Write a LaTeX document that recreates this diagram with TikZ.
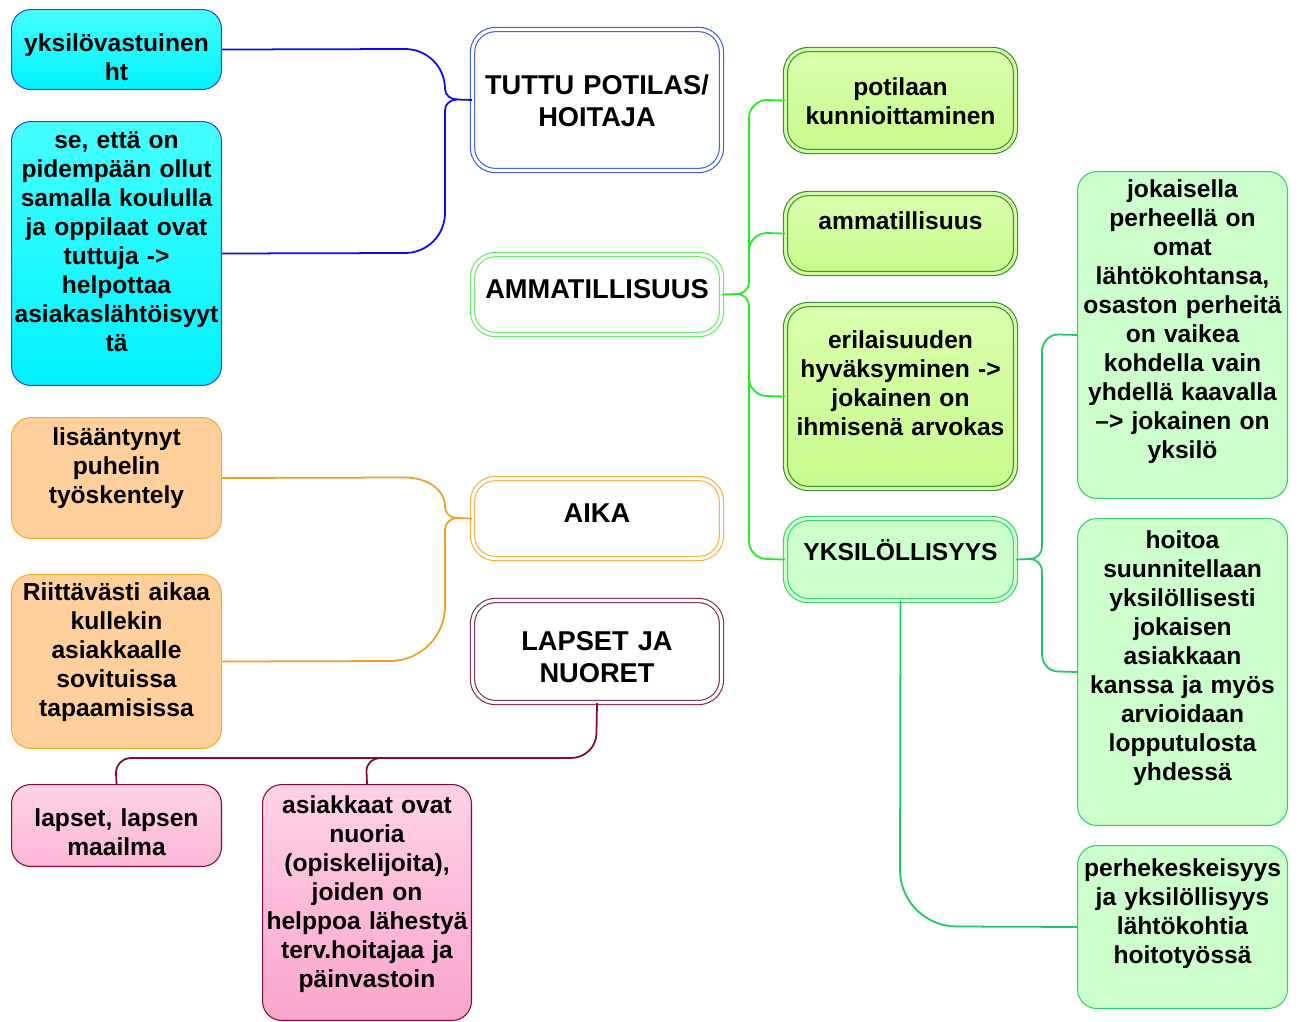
\documentclass[tikz,border=0pt]{standalone}
\usepackage{fontspec}
\setmainfont{Liberation Sans}
\usetikzlibrary{positioning}
\definecolor{cyantop}{RGB}{70,255,255}
\definecolor{cyanbot}{RGB}{0,242,255}
\definecolor{cyanedge}{RGB}{40,70,235}
\definecolor{blueline}{RGB}{10,10,240}
\definecolor{tuttuedge}{RGB}{50,80,220}
\definecolor{orfill}{RGB}{255,208,155}
\definecolor{oredge}{RGB}{250,170,50}
\definecolor{orline}{RGB}{238,160,40}
\definecolor{pinktop}{RGB}{255,210,230}
\definecolor{pinkbot}{RGB}{250,165,205}
\definecolor{maroonline}{RGB}{128,10,60}
\definecolor{lapsedge}{RGB}{120,30,70}
\definecolor{brgreen}{RGB}{40,235,40}
\definecolor{ammedge}{RGB}{90,235,90}
\definecolor{limetop}{RGB}{218,255,175}
\definecolor{limebot}{RGB}{200,250,140}
\definecolor{limemid}{RGB}{210,252,160}
\definecolor{limeedge}{RGB}{50,130,50}
\definecolor{palegreen}{RGB}{205,255,205}
\definecolor{tealedge}{RGB}{50,205,110}
\definecolor{tealline}{RGB}{30,200,100}

\begin{document}
\begin{tikzpicture}[x=0.02cm,y=-0.02cm,
  box/.style={rounded corners=11pt, anchor=north west, align=center,
    inner xsep=0pt, inner ysep=0pt, line width=0.6pt,
    font=\fontsize{14}{16.5}\selectfont\bfseries},
  sz/.style n args={3}{text width=#1cm, text height=#2cm, text depth=#3cm},
  dbl/.style={rounded corners=13pt, draw=#1, double distance=1.8pt},
  head/.style={font=\fontsize{15.5}{18}\selectfont\bfseries},
  ln/.style={draw=#1, line width=1pt}]

\fill[white] (0,0) rectangle (1301,1021);
\useasboundingbox (0,0) rectangle (1301,1021);

% left column
\node[box, sz={4.2}{0.84}{0.76}, draw=cyanedge, top color=cyantop, bottom color=cyanbot] (yksi) at (11,9) {yksilövastuinen\\ht};
\node[box, sz={4.2}{0.54}{4.74}, draw=cyanedge, top color=cyantop, bottom color=cyanbot] (se) at (11,121)
  {se, että on\\pidempään ollut\\samalla koululla\\ja oppilaat ovat\\tuttuja ->\\helpottaa\\asiakaslähtöisyyt\\tä};
\node[box, sz={4.2}{0.56}{1.86}, draw=oredge, fill=orfill] (lisa) at (11,417) {lisääntynyt\\puhelin\\työskentely};
\node[box, sz={4.2}{0.52}{2.96}, draw=oredge, fill=orfill] (riitt) at (11,574)
  {Riittävästi aikaa\\kullekin\\asiakkaalle\\sovituissa\\tapaamisissa};
\node[box, sz={4.2}{0.84}{0.80}, draw=maroonline, top color=pinktop, bottom color=pinkbot!60!pinktop] (lapset) at (11,784) {lapset, lapsen\\maailma};
\node[box, sz={4.18}{0.58}{4.14}, draw=maroonline, top color=pinktop, bottom color=pinkbot] (asiak) at (262,784)
  {asiakkaat ovat\\nuoria\\(opiskelijoita),\\joiden on\\helppoa lähestyä\\terv.hoitajaa ja\\päinvastoin};

% main topics
\node[box, head, sz={4.98}{1.30}{1.52}, dbl=tuttuedge, double=white, fill=white] (tuttu) at (472,29) {TUTTU POTILAS/\\HOITAJA};
\node[box, head, sz={4.98}{0.88}{0.72}, dbl=ammedge, double=white, fill=white] (ammat) at (472,254) {AMMATILLISUUS};
\node[box, head, sz={4.98}{0.88}{0.72}, dbl=oredge, double=white, fill=white] (aika) at (472,478) {AIKA};
\node[box, head, sz={4.98}{1.00}{1.04}, dbl=lapsedge, double=white, fill=white] (lapsetjn) at (472,600) {LAPSET JA\\NUORET};

% ammatillisuus
\node[box, sz={4.6}{0.92}{1.12}, dbl=limeedge, double=limemid, top color=limetop, bottom color=limebot] (potilaan) at (785,49) {potilaan\\kunnioittaminen};
\node[box, sz={4.6}{0.72}{0.88}, dbl=limeedge, double=limemid, top color=limetop, bottom color=limebot] (ammsub) at (785,193) {ammatillisuus};
\node[box, sz={4.6}{0.88}{2.80}, dbl=limeedge, double=limemid, top color=limetop, bottom color=limebot] (eril) at (785,304)
  {erilaisuuden\\hyväksyminen ->\\jokainen on\\ihmisenä arvokas};
\node[box, sz={4.6}{0.84}{0.80}, dbl=tealedge, double=palegreen, fill=palegreen] (yksil) at (785,518) {YKSILÖLLISYYS};

% yksilollisyys
\node[box, sz={4.2}{0.52}{6.02}, draw=tealedge, fill=palegreen] (jokais) at (1077,171)
  {jokaisella\\perheellä on\\omat\\lähtökohtansa,\\osaston perheitä\\on vaikea\\kohdella vain\\yhdellä kaavalla\\–> jokainen on\\yksilö};
\node[box, sz={4.2}{0.60}{5.54}, draw=tealedge, fill=palegreen] (hoitoa) at (1077,518)
  {hoitoa\\suunnitellaan\\yksilöllisesti\\jokaisen\\asiakkaan\\kanssa ja myös\\arvioidaan\\lopputulosta\\yhdessä};
\node[box, sz={4.2}{0.62}{2.64}, draw=tealedge, fill=palegreen] (perhe) at (1077,845)
  {perhekeskeisyys\\ja yksilöllisyys\\lähtökohtia\\hoitotyössä};

% connectors
\coordinate (jt) at (457,99.5);
\draw[ln=blueline] (yksi.east) -- (405,49) to[out=0,in=90] (445,89) to[out=-90,in=180] (jt) -- (tuttu.west);
\draw[ln=blueline] (se.east) -- (405,253) to[out=0,in=-90] (445,213) -- (445,110) to[out=90,in=180] (jt);

\coordinate (jo) at (457,518);
\draw[ln=orline] (lisa.east) -- (405,477.5) to[out=0,in=90] (445,507) to[out=-90,in=180] (jo) -- (aika.west);
\draw[ln=orline] (riitt.east) -- (390,661) to[out=0,in=-90] (445,606) -- (445,530) to[out=90,in=180] (jo);

\coordinate (ja) at (737,294);
\draw[ln=brgreen] (ammat.east) -- (ja) to[out=0,in=-90] (749,282) -- (749,118) to[out=90,in=180] (767,100) -- (potilaan.west);
\draw[ln=brgreen] (ja) to[out=0,in=90] (749,306) -- (749,541) to[out=-90,in=180] (767,559) -- (yksil.west);
\draw[ln=brgreen] (749,251) to[out=90,in=180] (767,233) -- (ammsub.west);
\draw[ln=brgreen] (749,378) to[out=-90,in=180] (767,396) -- (eril.west);

\coordinate (jy) at (1030,559);
\draw[ln=tealline] (yksil.east) -- (jy) to[out=0,in=-90] (1042,547) -- (1042,352) to[out=90,in=180] (1058,334.5) -- (jokais.west);
\draw[ln=tealline] (jy) to[out=0,in=90] (1042,571) -- (1042,654) to[out=-90,in=180] (1058,671.5) -- (hoitoa.west);
\draw[ln=tealline] (yksil.south) -- (900,870) to[out=-90,in=180] (957,926.5) -- (perhe.west);

\coordinate (jl) at (366.5,758);
\draw[ln=maroonline] (lapsetjn.south) -- (596.5,733) to[out=-90,in=0] (571,758) -- (131,758) to[out=180,in=90] (116,773) -- (lapset.north);
\draw[ln=maroonline] (380,758) to[out=180,in=90] (jl |- 0,771) -- (asiak.north);
\end{tikzpicture}
\end{document}
